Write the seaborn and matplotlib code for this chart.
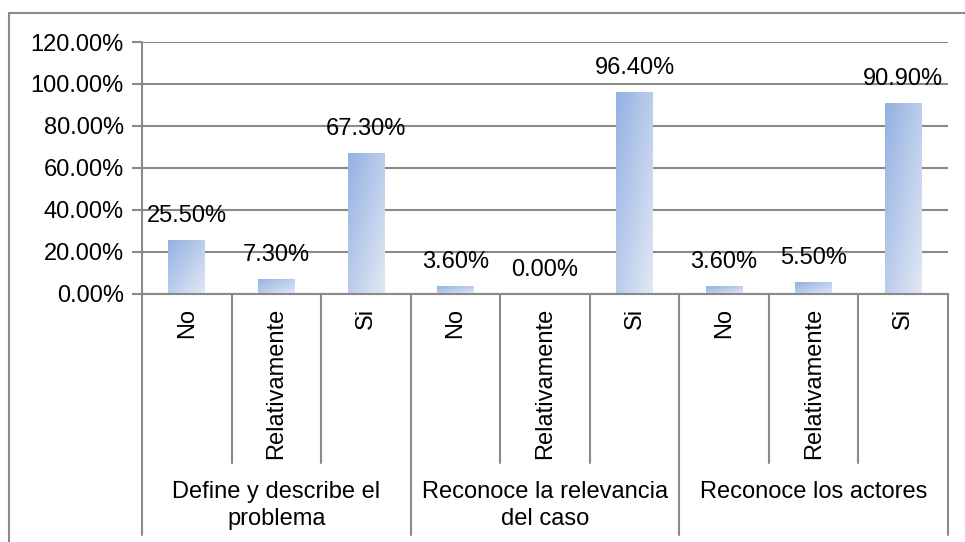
import numpy as np
import pandas as pd
import matplotlib
matplotlib.use("Agg")
import matplotlib.pyplot as plt
from matplotlib.colors import LinearSegmentedColormap
from matplotlib.patches import Rectangle
from matplotlib.transforms import blended_transform_factory
import seaborn as sns

# Data
groups = ["Define y describe el\nproblema", "Reconoce la relevancia\ndel caso", "Reconoce los actores"]
answers = ["No", "Relativamente", "Si"]
values = [25.5, 7.3, 67.3, 3.6, 0.0, 96.4, 3.6, 5.5, 90.9]
yticks = [0, 20, 40, 60, 80, 100, 120]

df = pd.DataFrame({
    "group": np.repeat(groups, len(answers)),
    "answer": answers * len(groups),
    "value": values,
})
df["key"] = df["group"] + "|" + df["answer"]

sns.set_theme(style="white")
plt.rcParams["font.family"] = ["Liberation Sans", "DejaVu Sans"]
plt.rcParams["text.color"] = "black"
FS = 17
gray = "#8a8a8a"

fig = plt.figure(figsize=(9.65, 5.42), dpi=100)
ax = fig.add_axes([142 / 965, 1 - 294 / 542, (948 - 142) / 965, 252 / 542])

sns.barplot(data=df, x="key", y="value", order=list(df["key"]), ax=ax,
            width=0.41, color="#b4c7e7", edgecolor="none")

# gradient fill for the bars
cmap = LinearSegmentedColormap.from_list("bar", ["#93b1e2", "#e2e8f5"])
u, v = np.meshgrid(np.linspace(0, 1, 50), np.linspace(0, 1, 50))
grad = (u + v) / 2
for p in ax.patches:
    x0, y0 = p.get_x(), p.get_y()
    w, h = p.get_width(), p.get_height()
    if h <= 0:
        continue
    im = ax.imshow(grad, cmap=cmap, extent=[x0, x0 + w, y0, y0 + h],
                   origin="upper", aspect="auto", zorder=p.get_zorder() + 0.1)
    im.set_clip_path(p)

ax.set_xlim(-0.5, len(values) - 0.5)
ax.set_ylim(0, 120)
ax.set_yticks(yticks)
ax.set_yticklabels([f"{t:.2f}%" for t in yticks], fontsize=FS, color="black")
ax.yaxis.grid(True, color=gray, lw=1.5)
ax.set_axisbelow(True)
ax.tick_params(axis="y", length=7, width=1.5, color=gray, pad=6, left=True)
ax.set_xticks([])
ax.set_xlabel("")
ax.set_ylabel("")
for s in ["top", "right", "left"]:
    ax.spines[s].set_visible(False)
ax.spines["bottom"].set_color(gray)
ax.spines["bottom"].set_linewidth(1.5)

# value labels
for i, val in enumerate(values):
    ax.annotate(f"{val:.2f}%", (i, val), xytext=(0, 24), textcoords="offset pixels",
                ha="center", va="center", fontsize=FS, color="black")

# multi-level category axis
tr = blended_transform_factory(ax.transData, ax.transAxes)
y_inner = (294 - 463) / 252
y_outer = (294 - 535) / 252
ax.plot([-0.5, -0.5], [1, y_outer], color=gray, lw=1.5, transform=tr, clip_on=False)
for i in range(1, len(values) + 1):
    xb = i - 0.5
    bottom = y_outer if i % len(answers) == 0 else y_inner
    ax.plot([xb, xb], [0, bottom], color=gray, lw=1.5, transform=tr, clip_on=False)

for i, lab in enumerate(df["answer"]):
    ax.text(i, (294 - 308) / 252, lab, rotation=90, ha="center", va="top",
            fontsize=FS, color="black", transform=tr)

for g, name in enumerate(groups):
    xc = g * len(answers) + (len(answers) - 1) / 2
    ax.text(xc, (294 - 481) / 252, name, ha="center", va="top", fontsize=FS,
            linespacing=1.3, color="black", transform=tr)

# outer chart frame
fig.add_artist(Rectangle((9 / 965, -0.1), 1.2, 1 - 13 / 542 + 0.1, fill=False,
                         ec=gray, lw=1.5, transform=fig.transFigure))

fig.savefig("out.png", dpi=100)
